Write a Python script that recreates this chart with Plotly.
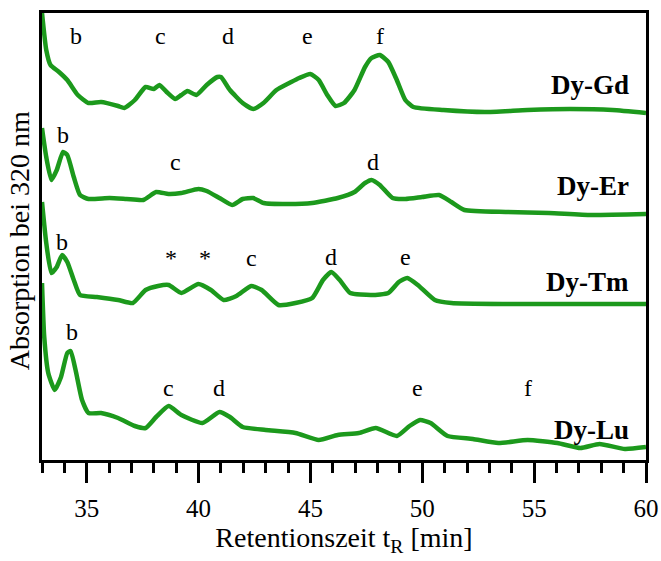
import plotly.graph_objects as go

# Retention times (min) and absorption (arbitrary units, traces stacked with offsets)
gd_t = [33.0, 33.19, 33.38, 33.76, 34.13, 34.6, 35.08, 35.64, 36.4, 36.68, 37.15, 37.63, 38.0, 38.25, 38.57,
        38.95, 39.23, 39.5, 39.9, 40.36, 40.84, 41.0, 41.4, 41.97, 42.44, 42.9, 43.48, 44.14, 44.5, 44.99,
        45.37, 45.75, 46.12, 46.5, 46.97, 47.44, 47.73, 48.1, 48.48, 48.86, 49.24, 49.6, 50.94, 52.8, 54.7,
        56.6, 58.5, 60.0]
gd_y = [447, 410, 395, 388, 380, 365, 357, 358, 354, 352, 360, 373, 371, 375, 368,
        361, 365, 369, 365, 375, 383, 383, 370, 357, 351, 357, 370, 378, 382, 386,
        380, 365, 354, 357, 370, 393, 402, 405, 398, 380, 360, 353, 350, 348, 350,
        351, 350, 347]

er_t = [33.0, 33.19, 33.42, 33.66, 33.94, 34.13, 34.42, 34.7, 35.08, 36.02, 36.78, 37.53, 38.1, 38.66, 39.23,
        39.99, 40.36, 40.93, 41.5, 41.97, 42.44, 42.91, 43.95, 45.08, 46.22, 46.97, 47.44, 47.73, 48.1, 48.67,
        49.24, 49.99, 50.75, 51.3, 51.88, 53.77, 55.66, 57.55, 60.0]
er_y = [332, 303, 280, 290, 308, 305, 283, 265, 261, 262, 261, 260, 268, 266, 267,
        271, 269, 262, 255, 261, 262, 257, 256, 257, 262, 268, 277, 280, 275, 262,
        261, 263, 265, 258, 250, 248, 247, 245, 246]

tm_t = [33.0, 33.19, 33.42, 33.66, 33.9, 34.13, 34.42, 34.7, 35.45, 36.4, 37.06, 37.63, 38.19, 38.66, 39.23,
        39.99, 40.55, 41.12, 41.69, 42.35, 42.82, 43.57, 44.33, 45.08, 45.56, 45.93, 46.31, 46.78, 47.73, 48.48,
        48.95, 49.33, 49.8, 50.56, 51.3, 53.77, 56.6, 60.0]
tm_y = [258, 217, 187, 193, 205, 198, 180, 165, 163, 160, 157, 170, 174, 175, 167,
        176, 170, 160, 164, 174, 170, 155, 157, 162, 180, 188, 180, 167, 165, 167,
        178, 182, 175, 160, 157, 156, 156, 156]

lu_t = [33.0, 33.1, 33.28, 33.57, 33.85, 34.13, 34.28, 34.5, 34.79, 35.08, 35.64, 36.4, 37.15, 37.63, 38.1,
        38.66, 39.23, 40.17, 40.93, 41.4, 41.97, 43.0, 44.33, 45.37, 46.22, 47.16, 47.92, 48.86, 49.43, 49.9,
        50.37, 51.13, 52.26, 53.4, 54.71, 56.04, 57.07, 57.92, 59.06, 60.0]
lu_y = [177, 123, 87, 70, 83, 107, 109, 90, 60, 47, 47, 42, 34, 32, 43,
        54, 45, 37, 48, 43, 33, 30, 27, 20, 25, 27, 32, 24, 34, 40,
        37, 24, 21, 17, 20, 17, 12, 16, 11, 13]

series_names = ["Dy-Gd", "Dy-Er", "Dy-Tm", "Dy-Lu"]
series_label_y = [375, 274, 178, 30]

# peak labels
peak_text = ["b", "c", "d", "e", "f",
             "b", "c", "d",
             "b", "*", "*", "c", "d", "e",
             "b", "c", "d", "e", "f"]
peak_t = [34.5, 38.28, 41.3, 44.89, 48.1,
          33.94, 38.95, 47.78,
          33.9, 38.76, 40.3, 42.38, 45.93, 49.24,
          34.32, 38.66, 40.93, 49.8, 54.71]
peak_y = [424, 424, 424, 424, 424,
          325, 298, 298,
          218, 202, 202, 202, 203, 203,
          128, 72, 72, 72, 72]

x_ticks = [35, 40, 45, 50, 55, 60]

GREEN = "#1c991c"
SERIF = "Liberation Serif"

fig = go.Figure()
for tt, yy in [(gd_t, gd_y), (er_t, er_y), (tm_t, tm_y), (lu_t, lu_y)]:
    fig.add_trace(go.Scatter(x=tt, y=yy, mode="lines",
                             line=dict(color=GREEN, width=4.5, shape="spline", smoothing=0.5),
                             showlegend=False, hoverinfo="skip"))

for name, yv in zip(series_names, series_label_y):
    fig.add_annotation(x=59.35, y=yv, text="<b>" + name + "</b>", showarrow=False,
                       xanchor="right", yanchor="middle",
                       font=dict(family=SERIF, size=27, color="black"))

for txt, tx, ty in zip(peak_text, peak_t, peak_y):
    fig.add_annotation(x=tx, y=ty, text=txt, showarrow=False, xanchor="center", yanchor="middle",
                       font=dict(family=SERIF, size=24, color="black"))

# y-axis title
fig.add_annotation(xref="paper", yref="paper", x=-0.036, y=0.49, text="Absorption bei 320 nm",
                   textangle=-90, showarrow=False, xanchor="center", yanchor="middle",
                   font=dict(family=SERIF, size=28, color="black"))

fig.update_layout(
    width=661, height=561,
    margin=dict(l=42, r=15, t=13, b=101),
    plot_bgcolor="white", paper_bgcolor="white",
    font=dict(family=SERIF, color="black"),
)
fig.update_xaxes(
    range=[33, 60], tickvals=x_ticks, ticktext=[str(v) for v in x_ticks],
    showline=True, linecolor="black", linewidth=2.5, mirror=True,
    ticks="outside", ticklen=20, tickwidth=2.5, tickcolor="black",
    minor=dict(dtick=1, tick0=33, ticks="outside", ticklen=10, tickwidth=2.5, tickcolor="black"),
    ticklabelstandoff=4, automargin=False,
    tickfont=dict(family=SERIF, size=25, color="black"),
    showgrid=False, zeroline=False,
    title=dict(text="Retentionszeit t<sub>R</sub> [min]", font=dict(family=SERIF, size=28, color="black"),
               standoff=5),
)
fig.update_yaxes(
    range=[0, 447], showticklabels=False, ticks="", automargin=False,
    showline=True, linecolor="black", linewidth=2.5, mirror=True,
    showgrid=False, zeroline=False,
)

fig.write_html("out.html")
